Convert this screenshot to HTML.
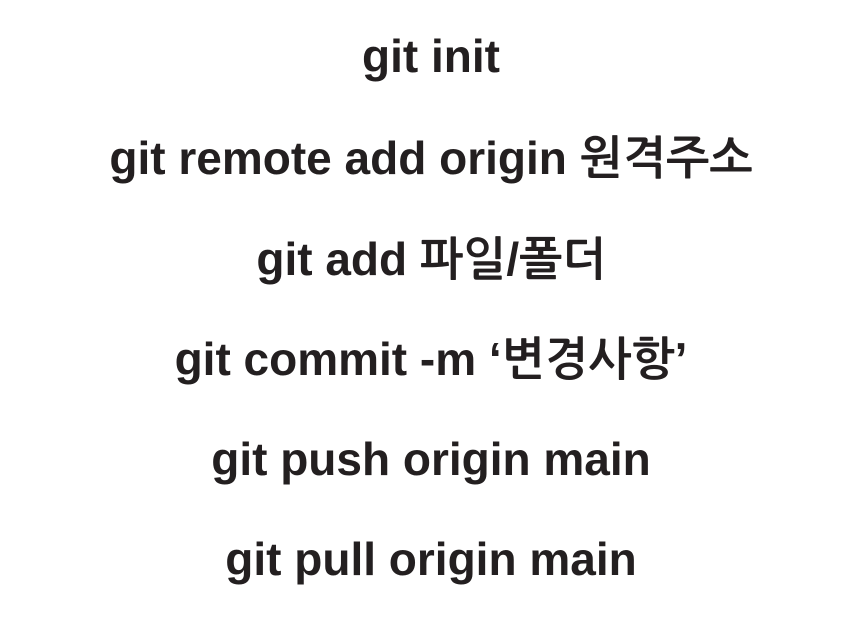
<!DOCTYPE html>
<html><head><meta charset="utf-8"><style>
html,body{margin:0;padding:0;background:#fff;}
body{width:862px;height:618px;position:relative;overflow:hidden;}
.l{position:absolute;left:0;width:862px;text-align:center;font-family:"Liberation Sans","NanumGothic","Noto Sans CJK KR",sans-serif;font-weight:bold;font-size:46px;color:#231f20;line-height:50px;letter-spacing:0px;}
</style></head><body>
<div class="l" style="top:31px">git init</div>
<div class="l" style="top:133px">git remote add origin 원격주소</div>
<div class="l" style="top:234px">git add 파일/폴더</div>
<div class="l" style="top:334px">git commit -m ‘변경사항’</div>
<div class="l" style="top:434px">git push origin main</div>
<div class="l" style="top:534px">git pull origin main</div>
</body></html>
